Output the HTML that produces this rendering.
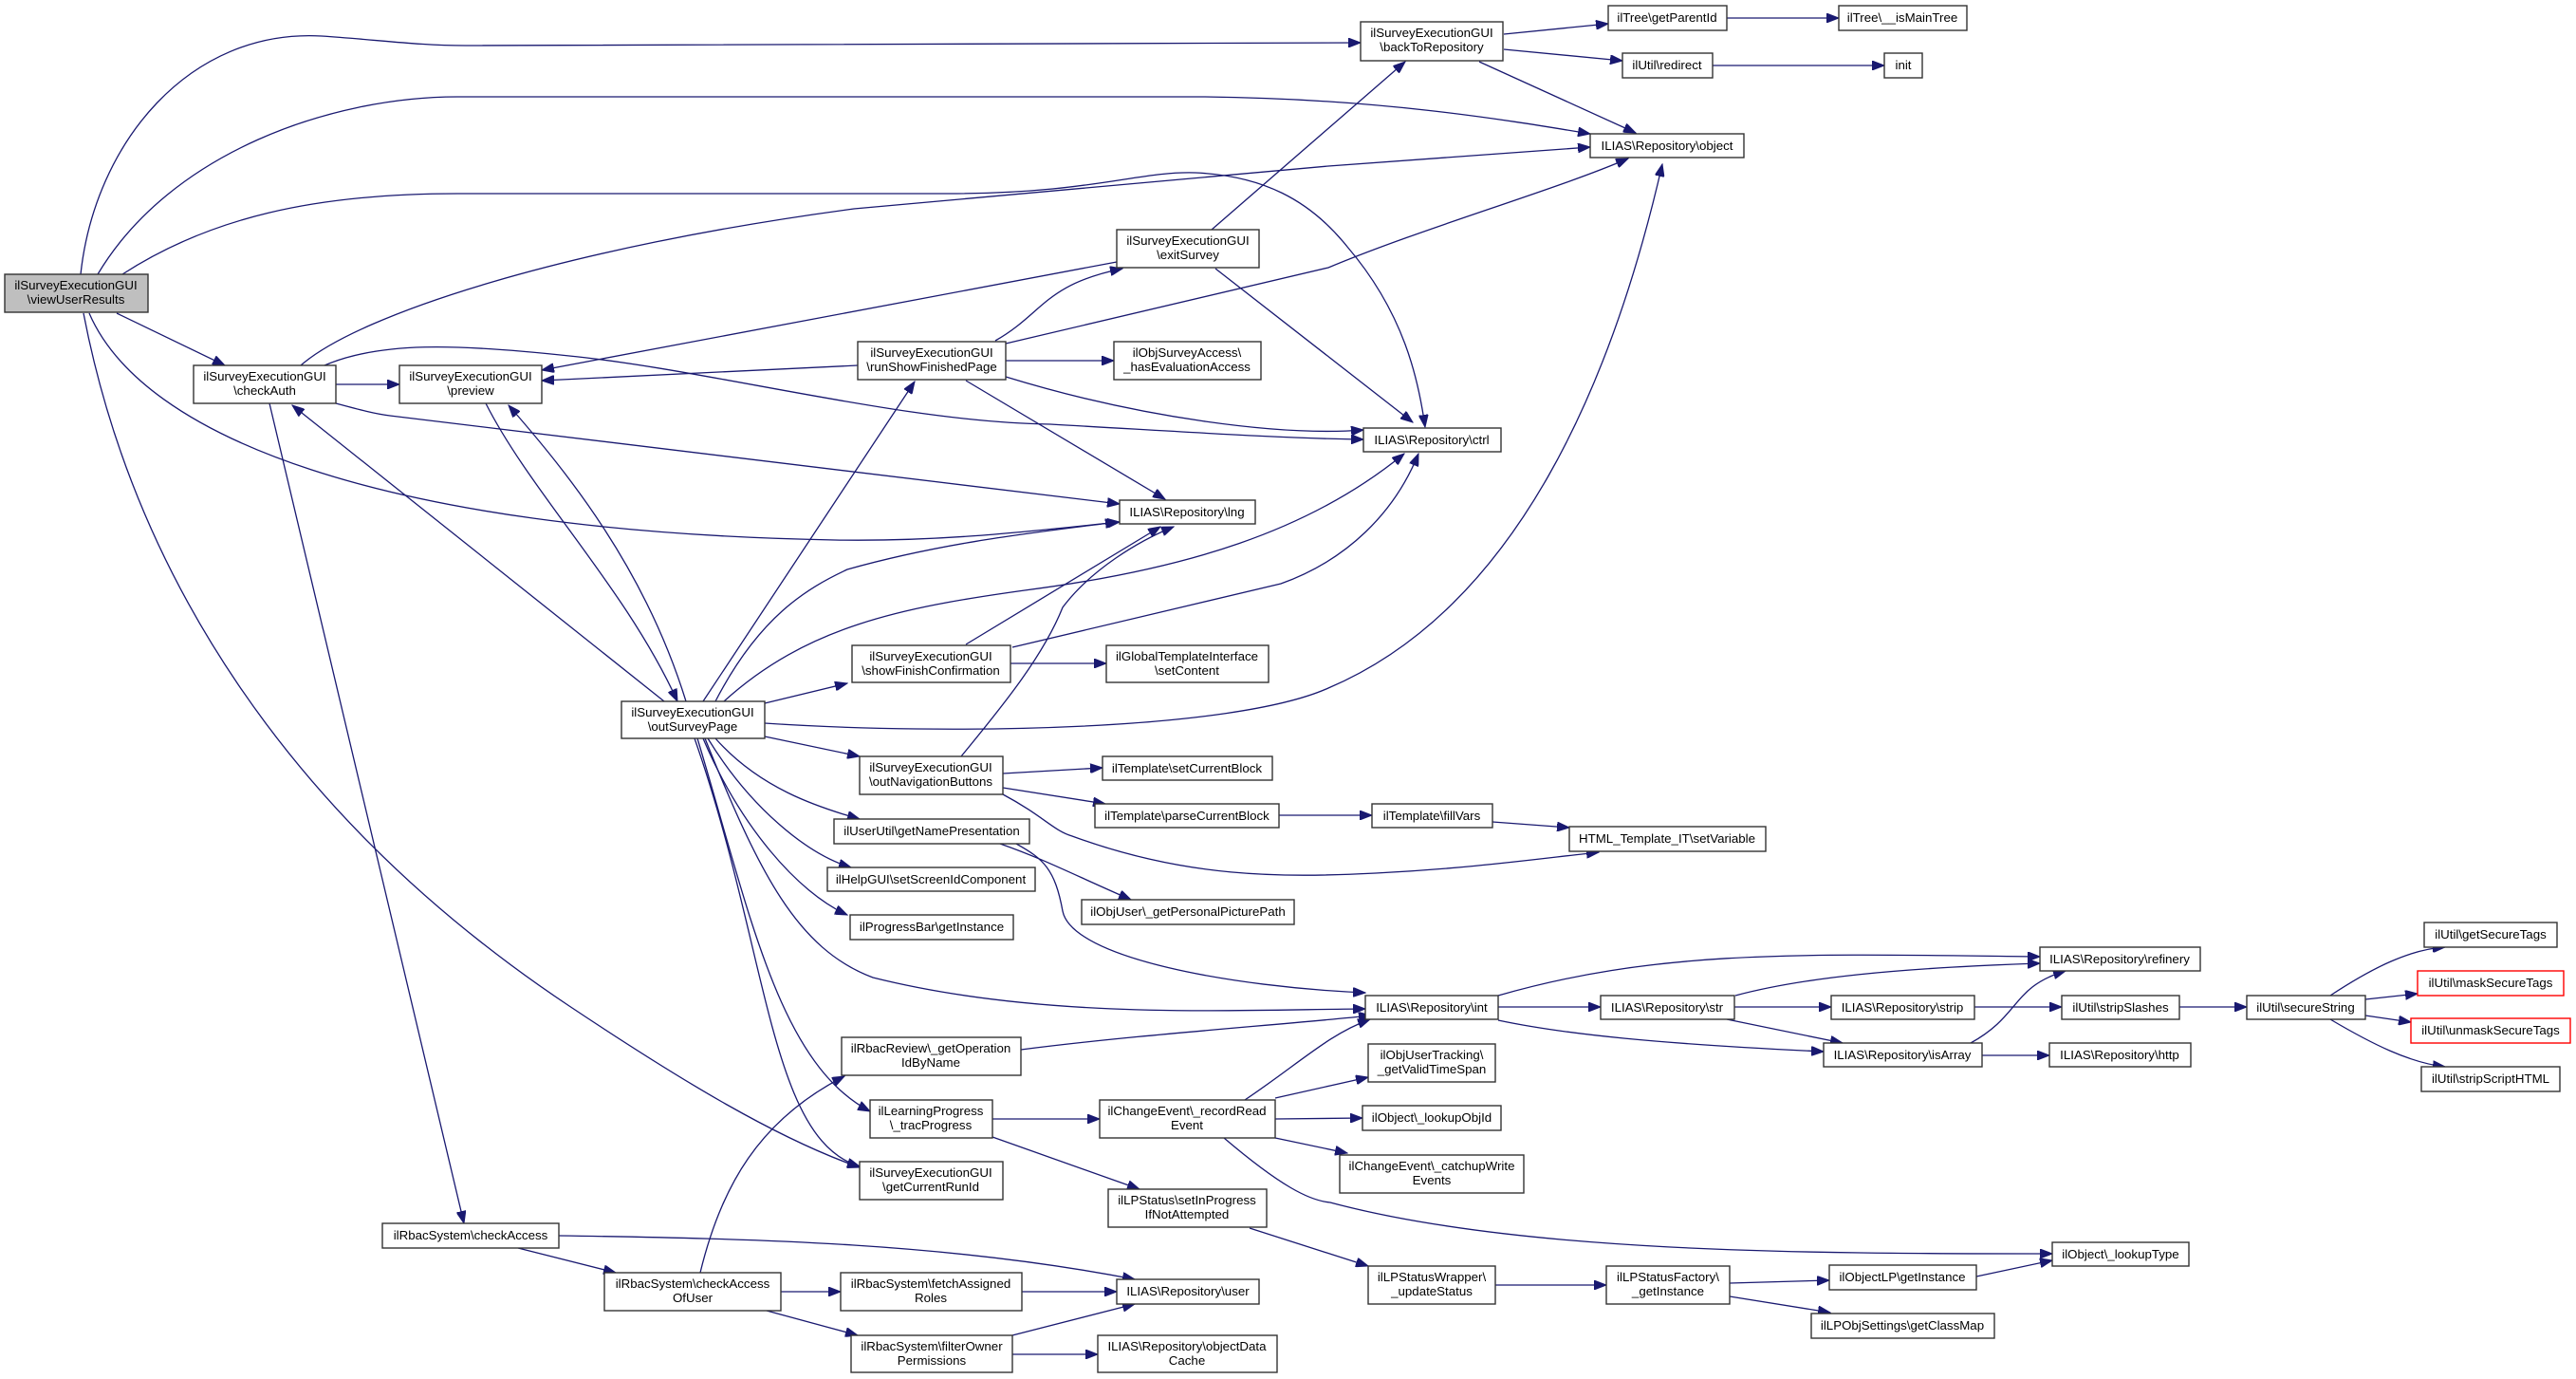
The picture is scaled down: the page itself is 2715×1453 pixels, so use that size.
<!DOCTYPE html>
<html><head><meta charset="utf-8"><style>
html,body{margin:0;padding:0;background:#fff;}
svg{display:block;}
text{font-family:"Liberation Sans",sans-serif;font-size:13.3px;fill:#000;text-anchor:middle;}
.e{fill:none;stroke:#191970;stroke-width:1.3;marker-end:url(#a);}
.n{fill:#fff;stroke:#333;stroke-width:1.4;}
.r{fill:#fff;stroke:#ff0000;stroke-width:1.4;}
</style></head><body>
<svg width="2715" height="1453" viewBox="0 0 2715 1453" xmlns="http://www.w3.org/2000/svg">
<defs><marker id="a" markerUnits="userSpaceOnUse" markerWidth="14" markerHeight="10" refX="13" refY="5" orient="auto"><path d="M0,0 L13,5 L0,10 z" fill="#191970" stroke="#191970"/></marker></defs>
<!-- edges -->
<path class="e" d="M85,289 C100,150 200,30 339,38 C400,42 440,48 491,48 L1434,45"/>
<path class="e" d="M103,289 C180,160 350,102 482,102 L1270,102 C1450,104 1580,125 1676,141"/>
<path class="e" d="M129,289 C220,230 330,204 482,204 L1000,204 C1150,204 1200,180 1260,182 C1330,185 1380,210 1420,260 C1480,330 1495,400 1502,450"/>
<path class="e" d="M123,330 L237,385"/>
<path class="e" d="M94,330 C150,460 400,560 880,569 C1000,571 1100,558 1180,550"/>
<path class="e" d="M88,330 C140,600 300,860 600,1060 C720,1140 820,1200 906,1230"/>
<path class="e" d="M354,405 L421,405"/>
<path class="e" d="M354,425 C380,432 395,436 411,438 L1180,531"/>
<path class="e" d="M317,385 C380,330 600,260 900,220 L1400,175 L1676,155"/>
<path class="e" d="M342,385 C400,360 480,362 600,375 C750,390 950,445 1107,447 C1250,455 1350,462 1437,463"/>
<path class="e" d="M284,425 L489,1289"/>
<path class="e" d="M700,739 L308,427"/>
<path class="e" d="M512,425 C560,520 660,620 714,739"/>
<path class="e" d="M723,739 C680,600 600,500 536,427"/>
<path class="e" d="M904,385 L571,401"/>
<path class="e" d="M1177,276 L571,390"/>
<path class="e" d="M1049,359 C1100,330 1100,300 1183,283"/>
<path class="e" d="M1060,380 L1174,380"/>
<path class="e" d="M1018,401 L1228,526"/>
<path class="e" d="M1060,362 L1400,282 C1500,240 1640,200 1716,167"/>
<path class="e" d="M1060,397 C1200,440 1350,460 1437,453"/>
<path class="e" d="M741,739 L964,402"/>
<path class="e" d="M1277,242 L1481,65"/>
<path class="e" d="M1281,283 L1489,445"/>
<path class="e" d="M1585,36 L1695,25"/>
<path class="e" d="M1585,52 L1710,64"/>
<path class="e" d="M1559,65 L1724,140"/>
<path class="e" d="M1820,19 L1938,19"/>
<path class="e" d="M1805,69 L1986,69"/>
<path class="e" d="M806,741 L893,720"/>
<path class="e" d="M754,739 C800,650 850,620 893,600 C1000,570 1100,560 1178,550"/>
<path class="e" d="M763,739 C850,660 950,640 1080,622 C1250,600 1380,560 1480,478"/>
<path class="e" d="M1067,682 L1350,615 C1420,590 1470,540 1495,478"/>
<path class="e" d="M806,762 C1000,775 1300,770 1400,725 C1600,640 1700,400 1752,173"/>
<path class="e" d="M1065,699 L1166,699"/>
<path class="e" d="M1018,679 L1223,555"/>
<path class="e" d="M1013,797 C1060,740 1100,690 1120,640 C1150,600 1200,570 1237,555"/>
<path class="e" d="M806,776 L906,797"/>
<path class="e" d="M1057,815 L1162,809"/>
<path class="e" d="M1057,830 L1165,847"/>
<path class="e" d="M1057,837 C1100,860 1110,875 1130,881 C1250,925 1350,925 1450,920 C1550,915 1620,905 1685,898"/>
<path class="e" d="M1348,859 L1446,859"/>
<path class="e" d="M1573,866 L1654,872"/>
<path class="e" d="M754,778 C800,830 860,850 906,863"/>
<path class="e" d="M746,778 C790,850 850,900 897,914"/>
<path class="e" d="M741,778 C780,870 840,940 893,964"/>
<path class="e" d="M743,778 C800,920 840,1000 920,1030 C1100,1075 1300,1064 1439,1063"/>
<path class="e" d="M1054,889 C1100,905 1130,921 1192,948"/>
<path class="e" d="M1071,889 C1100,905 1112,916 1120,960 C1130,1010 1300,1040 1439,1046"/>
<path class="e" d="M1076,1106 C1200,1090 1350,1080 1445,1070"/>
<path class="e" d="M1312,1159 C1370,1120 1400,1090 1444,1074"/>
<path class="e" d="M738,1341 C760,1250 800,1180 890,1134"/>
<path class="e" d="M735,778 C790,960 820,1120 917,1171"/>
<path class="e" d="M732,778 C810,1000 810,1200 906,1229"/>
<path class="e" d="M1046,1179 L1159,1179"/>
<path class="e" d="M1046,1198 L1201,1253"/>
<path class="e" d="M1317,1294 L1442,1334"/>
<path class="e" d="M1344,1157 L1442,1135"/>
<path class="e" d="M1344,1179 L1436,1178"/>
<path class="e" d="M1344,1199 L1420,1215"/>
<path class="e" d="M1290,1199 C1350,1250 1380,1265 1402,1267 C1600,1320 1900,1321 2163,1321"/>
<path class="e" d="M1576,1354 L1693,1354"/>
<path class="e" d="M1823,1352 L1928,1349"/>
<path class="e" d="M1823,1366 L1929,1383"/>
<path class="e" d="M2083,1345 L2163,1328"/>
<path class="e" d="M1579,1049 C1750,1000 1900,1005 2150,1008"/>
<path class="e" d="M1579,1061 L1687,1061"/>
<path class="e" d="M1579,1075 C1650,1090 1750,1100 1922,1108"/>
<path class="e" d="M1829,1049 C1900,1030 2000,1020 2150,1015"/>
<path class="e" d="M1828,1061 L1930,1061"/>
<path class="e" d="M1820,1074 L1942,1099"/>
<path class="e" d="M2081,1061 L2173,1061"/>
<path class="e" d="M2297,1061 L2368,1061"/>
<path class="e" d="M2077,1099 C2130,1070 2120,1040 2177,1023"/>
<path class="e" d="M2089,1112 L2160,1112"/>
<path class="e" d="M2456,1049 C2500,1020 2540,1000 2577,998"/>
<path class="e" d="M2493,1053 L2548,1047"/>
<path class="e" d="M2493,1070 L2541,1077"/>
<path class="e" d="M2456,1074 C2500,1100 2540,1120 2577,1124"/>
<path class="e" d="M546,1315 L649,1341"/>
<path class="e" d="M589,1302 C800,1305 1000,1310 1196,1348"/>
<path class="e" d="M823,1361 L886,1361"/>
<path class="e" d="M808,1381 L904,1407"/>
<path class="e" d="M1077,1361 L1177,1361"/>
<path class="e" d="M1067,1407 L1196,1374"/>
<path class="e" d="M1067,1427 L1157,1427"/>
<!-- nodes -->
<rect x="5" y="289" width="151" height="40" fill="#bfbfbf" stroke="#333" stroke-width="1.4"/><text x="80" y="305">ilSurveyExecutionGUI</text><text x="80" y="320">\viewUserResults</text>
<rect class="n" x="204" y="385" width="150" height="40"/><text x="279" y="401">ilSurveyExecutionGUI</text><text x="279" y="416">\checkAuth</text>
<rect class="n" x="421" y="385" width="150" height="40"/><text x="496" y="401">ilSurveyExecutionGUI</text><text x="496" y="416">\preview</text>
<rect class="n" x="904" y="360" width="156" height="40"/><text x="982" y="376">ilSurveyExecutionGUI</text><text x="982" y="391">\runShowFinishedPage</text>
<rect class="n" x="1177" y="242" width="150" height="40"/><text x="1252" y="258">ilSurveyExecutionGUI</text><text x="1252" y="273">\exitSurvey</text>
<rect class="n" x="1174" y="360" width="155" height="40"/><text x="1251" y="376">ilObjSurveyAccess\</text><text x="1251" y="391">_hasEvaluationAccess</text>
<rect class="n" x="1180" y="527" width="143" height="25"/><text x="1251" y="544">ILIAS\Repository\lng</text>
<rect class="n" x="898" y="680" width="167" height="39"/><text x="981" y="696">ilSurveyExecutionGUI</text><text x="981" y="711">\showFinishConfirmation</text>
<rect class="n" x="1166" y="680" width="171" height="39"/><text x="1251" y="696">ilGlobalTemplateInterface</text><text x="1251" y="711">\setContent</text>
<rect class="n" x="1434" y="23" width="150" height="41"/><text x="1509" y="39">ilSurveyExecutionGUI</text><text x="1509" y="54">\backToRepository</text>
<rect class="n" x="1695" y="6" width="125" height="26"/><text x="1757" y="23">ilTree\getParentId</text>
<rect class="n" x="1938" y="6" width="135" height="26"/><text x="2005" y="23">ilTree\__isMainTree</text>
<rect class="n" x="1710" y="56" width="95" height="26"/><text x="1757" y="73">ilUtil\redirect</text>
<rect class="n" x="1986" y="56" width="40" height="26"/><text x="2006" y="73">init</text>
<rect class="n" x="1676" y="141" width="162" height="25"/><text x="1757" y="158">ILIAS\Repository\object</text>
<rect class="n" x="1437" y="451" width="145" height="25"/><text x="1509" y="468">ILIAS\Repository\ctrl</text>
<rect class="n" x="655" y="739" width="151" height="39"/><text x="730" y="755">ilSurveyExecutionGUI</text><text x="730" y="770">\outSurveyPage</text>
<rect class="n" x="906" y="797" width="151" height="40"/><text x="981" y="813">ilSurveyExecutionGUI</text><text x="981" y="828">\outNavigationButtons</text>
<rect class="n" x="879" y="863" width="206" height="26"/><text x="982" y="880">ilUserUtil\getNamePresentation</text>
<rect class="n" x="872" y="914" width="219" height="25"/><text x="981" y="931">ilHelpGUI\setScreenIdComponent</text>
<rect class="n" x="896" y="964" width="172" height="26"/><text x="982" y="981">ilProgressBar\getInstance</text>
<rect class="n" x="1162" y="797" width="179" height="25"/><text x="1251" y="814">ilTemplate\setCurrentBlock</text>
<rect class="n" x="1154" y="847" width="194" height="25"/><text x="1251" y="864">ilTemplate\parseCurrentBlock</text>
<rect class="n" x="1140" y="948" width="224" height="26"/><text x="1252" y="965">ilObjUser\_getPersonalPicturePath</text>
<rect class="n" x="887" y="1093" width="189" height="40"/><text x="981" y="1109">ilRbacReview\_getOperation</text><text x="981" y="1124">IdByName</text>
<rect class="n" x="917" y="1159" width="129" height="40"/><text x="981" y="1175">ilLearningProgress</text><text x="981" y="1190">\_tracProgress</text>
<rect class="n" x="1159" y="1159" width="185" height="40"/><text x="1251" y="1175">ilChangeEvent\_recordRead</text><text x="1251" y="1190">Event</text>
<rect class="n" x="906" y="1224" width="151" height="40"/><text x="981" y="1240">ilSurveyExecutionGUI</text><text x="981" y="1255">\getCurrentRunId</text>
<rect class="n" x="1168" y="1253" width="167" height="40"/><text x="1251" y="1269">ilLPStatus\setInProgress</text><text x="1251" y="1284">IfNotAttempted</text>
<rect class="n" x="403" y="1289" width="186" height="26"/><text x="496" y="1306">ilRbacSystem\checkAccess</text>
<rect class="n" x="637" y="1341" width="186" height="40"/><text x="730" y="1357">ilRbacSystem\checkAccess</text><text x="730" y="1372">OfUser</text>
<rect class="n" x="886" y="1341" width="191" height="40"/><text x="981" y="1357">ilRbacSystem\fetchAssigned</text><text x="981" y="1372">Roles</text>
<rect class="n" x="1177" y="1348" width="150" height="26"/><text x="1252" y="1365">ILIAS\Repository\user</text>
<rect class="n" x="897" y="1407" width="170" height="39"/><text x="982" y="1423">ilRbacSystem\filterOwner</text><text x="982" y="1438">Permissions</text>
<rect class="n" x="1157" y="1407" width="189" height="39"/><text x="1251" y="1423">ILIAS\Repository\objectData</text><text x="1251" y="1438">Cache</text>
<rect class="n" x="1446" y="847" width="127" height="25"/><text x="1509" y="864">ilTemplate\fillVars</text>
<rect class="n" x="1654" y="871" width="207" height="26"/><text x="1757" y="888">HTML_Template_IT\setVariable</text>
<rect class="n" x="2150" y="998" width="169" height="25"/><text x="2234" y="1015">ILIAS\Repository\refinery</text>
<rect class="n" x="1439" y="1049" width="140" height="25"/><text x="1509" y="1066">ILIAS\Repository\int</text>
<rect class="n" x="1687" y="1049" width="141" height="25"/><text x="1757" y="1066">ILIAS\Repository\str</text>
<rect class="n" x="1930" y="1049" width="151" height="25"/><text x="2005" y="1066">ILIAS\Repository\strip</text>
<rect class="n" x="2173" y="1049" width="124" height="25"/><text x="2235" y="1066">ilUtil\stripSlashes</text>
<rect class="n" x="2368" y="1049" width="125" height="25"/><text x="2430" y="1066">ilUtil\secureString</text>
<rect class="n" x="2555" y="972" width="140" height="26"/><text x="2625" y="989">ilUtil\getSecureTags</text>
<rect class="r" x="2548" y="1023" width="154" height="26"/><text x="2625" y="1040">ilUtil\maskSecureTags</text>
<rect class="r" x="2541" y="1073" width="168" height="26"/><text x="2625" y="1090">ilUtil\unmaskSecureTags</text>
<rect class="n" x="2552" y="1124" width="146" height="26"/><text x="2625" y="1141">ilUtil\stripScriptHTML</text>
<rect class="n" x="1922" y="1099" width="167" height="25"/><text x="2005" y="1116">ILIAS\Repository\isArray</text>
<rect class="n" x="2160" y="1099" width="149" height="25"/><text x="2234" y="1116">ILIAS\Repository\http</text>
<rect class="n" x="1442" y="1100" width="134" height="40"/><text x="1509" y="1116">ilObjUserTracking\</text><text x="1509" y="1131">_getValidTimeSpan</text>
<rect class="n" x="1436" y="1165" width="146" height="26"/><text x="1509" y="1182">ilObject\_lookupObjId</text>
<rect class="n" x="1412" y="1217" width="194" height="40"/><text x="1509" y="1233">ilChangeEvent\_catchupWrite</text><text x="1509" y="1248">Events</text>
<rect class="n" x="2163" y="1309" width="144" height="25"/><text x="2235" y="1326">ilObject\_lookupType</text>
<rect class="n" x="1442" y="1334" width="134" height="40"/><text x="1509" y="1350">ilLPStatusWrapper\</text><text x="1509" y="1365">_updateStatus</text>
<rect class="n" x="1693" y="1334" width="130" height="40"/><text x="1758" y="1350">ilLPStatusFactory\</text><text x="1758" y="1365">_getInstance</text>
<rect class="n" x="1928" y="1333" width="155" height="26"/><text x="2005" y="1350">ilObjectLP\getInstance</text>
<rect class="n" x="1909" y="1384" width="193" height="26"/><text x="2005" y="1401">ilLPObjSettings\getClassMap</text>
</svg>
</body></html>
